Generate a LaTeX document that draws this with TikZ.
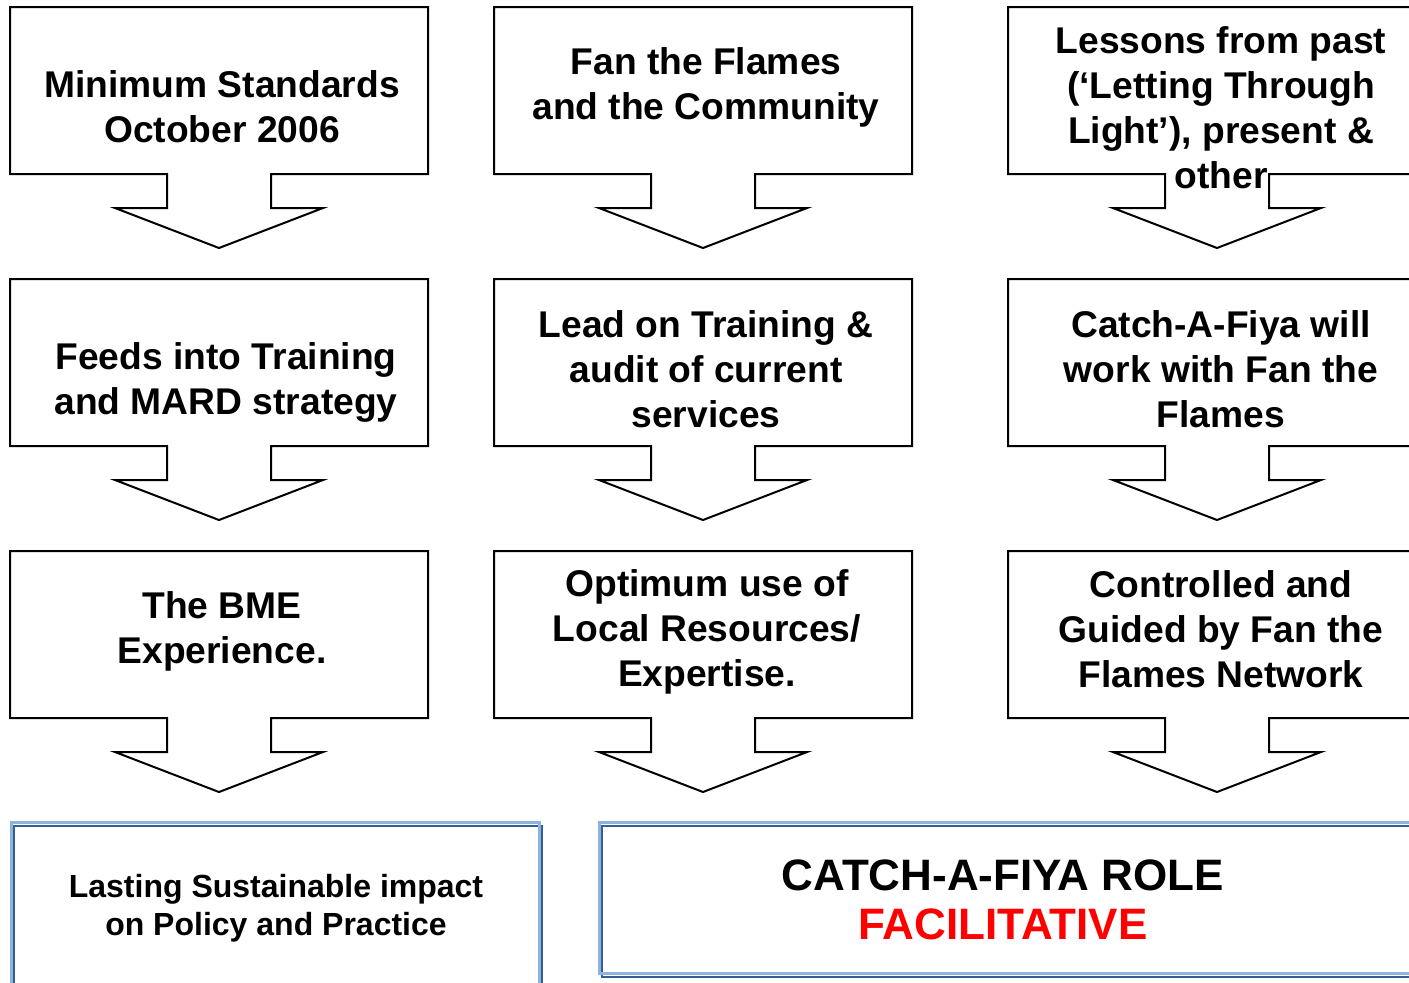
\documentclass[tikz,border=0pt]{standalone}
\usepackage{fontspec}
\setmainfont{Liberation Sans}
\usepackage{tikz}
\usetikzlibrary{positioning}

\definecolor{lightframe}{RGB}{141,179,226}
\definecolor{darkframe}{RGB}{54,95,145}

\tikzset{
  boxtext/.style={align=center, inner sep=0pt, font=\fontsize{18.6}{22.5}\selectfont\bfseries},
  endtext/.style={align=center, inner sep=0pt, font=\fontsize{16}{19}\selectfont\bfseries},
  roletext/.style={align=center, inner sep=0pt, font=\fontsize{22}{24.5}\selectfont\bfseries},
  pics/callout/.style={code={
    \draw[line width=1pt] (0,0) -- (418,0) -- (418,167) -- (261,167) -- (261,201)
      -- (313,201) -- (209,241) -- (105,201) -- (157,201) -- (157,167) -- (0,167) -- cycle;
  }}
}

\begin{document}
\begin{tikzpicture}[x=0.5pt, y=-0.5pt]
			\useasboundingbox (0,0) rectangle (1409,982);

			% the nine callouts
			\pic at (10,7) {callout};
			\pic at (494,7) {callout};
			\pic at (1008,7) {callout};
			\pic at (10,279) {callout};
			\pic at (494,279) {callout};
			\pic at (1008,279) {callout};
			\pic at (10,551) {callout};
			\pic at (494,551) {callout};
			\pic at (1008,551) {callout};

			\node[boxtext](minstd) at (222,107){Minimum Standards\\October 2006};
			\node[boxtext](fan) at (706,87){Fan the Flames\\and the Community};
			\node[boxtext](lessons) at (1221,108){Lessons from past\\(‘Letting Through\\Light’), present \&\\other};

			\node[boxtext](feeds) at (226,382){Feeds into Training\\and MARD strategy};
			\node[boxtext](lead) at (706,369){Lead on Training \&\\audit of current\\services};
			\node[boxtext](work) at (1221,369){Catch-A-Fiya will\\work with Fan the\\Flames};

			\node[boxtext](bme) at (222,631){The BME\\Experience.};
			\node[boxtext](optimum) at (707,632){Optimum use of\\Local Resources/\\Expertise.};
			\node[boxtext](guided) at (1221,629){Controlled and\\Guided by Fan the\\Flames Network};

			% bottom frames
			\draw[darkframe, line width=1pt] (14,826) rectangle (542,994);
			\draw[lightframe, line width=1.5pt] (11,822) rectangle (539,990);
			\draw[darkframe, line width=1pt] (602,826) rectangle (1423,977);
			\draw[lightframe, line width=1.5pt] (599,822) rectangle (1420,973);

			\node[endtext](impact) at (276,908){Lasting Sustainable impact\\on Policy and Practice};
			\node[roletext](role) at (1003,900){CATCH-A-FIYA ROLE\\\textcolor{red}{FACILITATIVE}};

\end{tikzpicture}
\end{document}
